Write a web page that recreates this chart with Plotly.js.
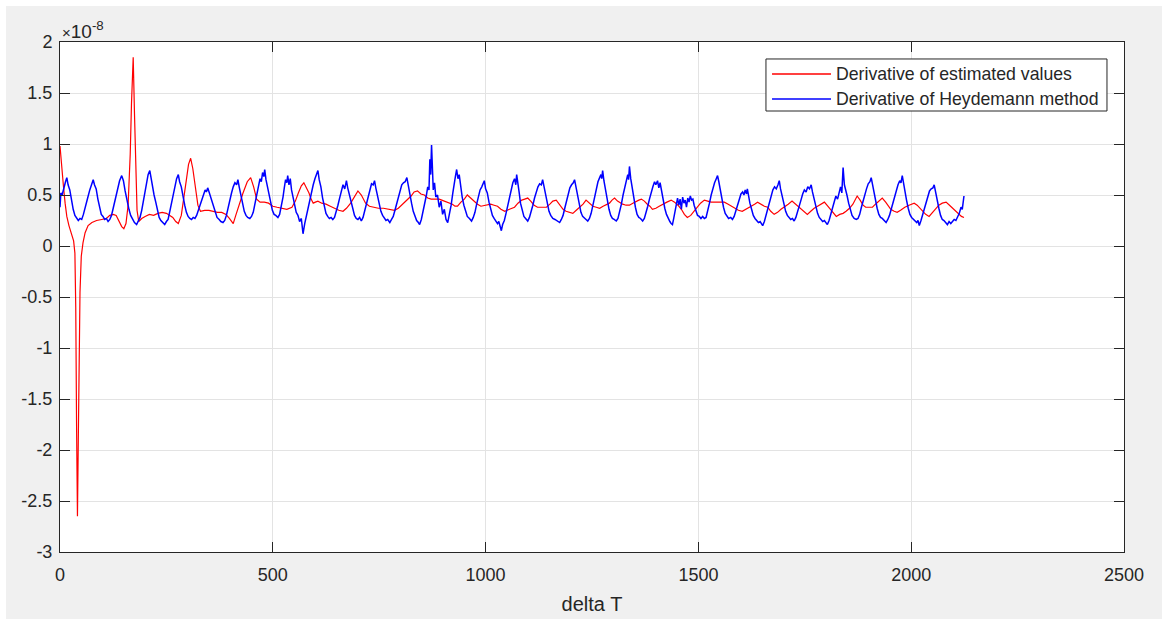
<!DOCTYPE html>
<html>
<head>
<meta charset="utf-8">
<script src="https://cdn.plot.ly/plotly-3.0.1.min.js"></script>
<style>
html,body{margin:0;padding:0;background:#ffffff;width:1162px;height:619px;overflow:hidden;}
#chart{position:absolute;left:6px;top:6px;width:1156px;height:613px;}
</style>
</head>
<body>
<div id="chart"></div>
<script>
// Values are in units of 1e-8
const estX = [0,3,8,12,16,21,27,32,35,37,39,41,43,45,47,50,54,59,66,75,86,98,109,117,125,132,139,145,150,155,160,165,168,172,175,178,181,185,192,200,210,220,230,240,250,258,265,272,278,285,292,297,302,307,312,318,324,330,340,350,360,370,380,390,398,404,407,413,420,430,440,448,455,462,470,480,490,500,510,520,533,545,553,560,567,573,579,585,590,595,600,606,615,625,635,645,655,665,673,683,692,700,708,718,727,735,748,760,773,786,795,805,815,825,832,840,848,856,864,872,882,891,897,903,912,922,928,934,942,950,957,965,973,981,989,1000,1012,1020,1028,1036,1045,1056,1068,1076,1085,1092,1099,1106,1114,1122,1130,1143,1151,1158,1166,1174,1182,1189,1197,1205,1213,1221,1229,1236,1244,1252,1260,1268,1276,1284,1291,1297,1303,1310,1317,1322,1330,1338,1346,1354,1360,1366,1373,1380,1386,1392,1400,1408,1416,1426,1436,1444,1452,1460,1467,1474,1482,1490,1498,1505,1514,1522,1530,1545,1561,1570,1577,1585,1594,1603,1612,1624,1632,1639,1647,1655,1663,1670,1678,1686,1694,1702,1711,1720,1728,1738,1748,1756,1764,1772,1780,1788,1796,1804,1812,1818,1824,1832,1840,1847,1855,1863,1868,1873,1880,1887,1893,1901,1909,1916,1924,1932,1940,1946,1952,1960,1967,1975,1985,1995,2007,2014,2020,2026,2034,2042,2050,2058,2065,2073,2082,2090,2097,2105,2112,2118,2124];
const estY = [0.98,0.80,0.59,0.42,0.29,0.20,0.13,0.05,-0.07,-0.6,-1.8,-2.65,-1.9,-1.0,-0.45,-0.1,0.03,0.13,0.20,0.23,0.25,0.26,0.27,0.30,0.31,0.30,0.24,0.19,0.17,0.22,0.40,0.90,1.40,1.85,1.30,0.70,0.35,0.24,0.27,0.29,0.31,0.30,0.32,0.33,0.32,0.30,0.28,0.24,0.22,0.30,0.48,0.65,0.80,0.86,0.76,0.55,0.40,0.34,0.35,0.35,0.34,0.33,0.33,0.31,0.27,0.23,0.22,0.30,0.40,0.52,0.63,0.67,0.58,0.46,0.43,0.43,0.42,0.39,0.38,0.37,0.36,0.38,0.44,0.52,0.59,0.62,0.57,0.52,0.46,0.42,0.43,0.44,0.42,0.41,0.39,0.37,0.35,0.34,0.37,0.42,0.49,0.54,0.50,0.42,0.39,0.38,0.37,0.37,0.36,0.35,0.37,0.41,0.44,0.49,0.53,0.54,0.51,0.50,0.47,0.46,0.46,0.46,0.45,0.44,0.42,0.41,0.39,0.39,0.43,0.46,0.50,0.47,0.44,0.41,0.39,0.40,0.41,0.40,0.39,0.36,0.34,0.36,0.38,0.42,0.45,0.46,0.47,0.44,0.40,0.38,0.38,0.38,0.41,0.44,0.45,0.41,0.36,0.34,0.33,0.32,0.35,0.38,0.41,0.45,0.42,0.39,0.38,0.37,0.39,0.41,0.42,0.45,0.47,0.44,0.42,0.41,0.40,0.40,0.42,0.44,0.45,0.46,0.44,0.41,0.39,0.36,0.37,0.39,0.41,0.43,0.45,0.43,0.40,0.36,0.31,0.28,0.30,0.34,0.39,0.42,0.45,0.44,0.43,0.43,0.43,0.41,0.39,0.37,0.35,0.34,0.36,0.39,0.41,0.43,0.41,0.39,0.38,0.34,0.31,0.33,0.36,0.38,0.41,0.44,0.41,0.37,0.34,0.31,0.34,0.37,0.39,0.41,0.43,0.39,0.35,0.31,0.29,0.31,0.32,0.34,0.37,0.41,0.45,0.49,0.45,0.40,0.38,0.38,0.38,0.41,0.44,0.47,0.43,0.39,0.36,0.34,0.33,0.35,0.38,0.40,0.42,0.40,0.37,0.34,0.31,0.29,0.33,0.37,0.40,0.42,0.43,0.40,0.37,0.34,0.31,0.29,0.28];

const heyX = [0,2,5,9,13,16,19,23,27,31,35,39,43,47,51,55,60,65,70,74,78,81,85,89,93,97,101,105,109,113,117,121,125,130,135,140,145,149,153,157,162,166,171,175,180,184,188,192,196,200,204,207,211,214,217,221,225,229,233,237,241,246,250,254,258,262,266,270,274,278,281,285,289,293,297,301,305,309,313,317,321,326,331,336,341,344,347,351,355,359,364,369,374,378,383,387,391,395,399,403,407,411,415,418,421,425,429,433,437,441,446,450,454,458,462,466,470,473,476,479,481,484,487,491,495,499,503,507,512,516,520,524,527,530,533,535,538,541,544,547,551,555,559,563,567,571,575,579,583,587,591,595,599,603,606,609,613,617,621,625,629,633,637,641,645,649,653,657,661,665,669,673,676,680,684,688,692,696,700,704,708,712,716,720,724,728,732,736,739,742,746,750,754,758,762,766,770,775,779,783,787,791,795,799,803,807,811,815,818,822,826,830,834,838,842,845,849,853,857,861,864,867,869,871,873,875,877,880,883,887,891,895,899,903,907,911,915,919,923,926,929,932,935,938,941,945,949,953,957,962,967,971,975,979,983,987,991,994,997,1000,1004,1008,1012,1016,1020,1024,1028,1031,1034,1037,1040,1044,1048,1052,1056,1060,1064,1068,1071,1073,1076,1079,1082,1086,1090,1094,1099,1103,1107,1111,1115,1119,1123,1127,1131,1134,1137,1141,1145,1149,1153,1158,1163,1168,1174,1178,1182,1186,1190,1194,1198,1202,1206,1209,1212,1216,1220,1224,1228,1232,1236,1240,1244,1248,1252,1256,1260,1264,1268,1271,1273,1275,1278,1282,1286,1290,1294,1298,1302,1307,1311,1315,1319,1323,1327,1331,1334,1336,1338,1341,1344,1348,1352,1356,1360,1364,1369,1373,1377,1381,1385,1389,1393,1397,1400,1404,1407,1410,1413,1417,1421,1425,1429,1433,1436,1439,1442,1445,1448,1451,1454,1457,1460,1463,1466,1469,1472,1475,1478,1481,1484,1487,1490,1494,1498,1502,1506,1510,1514,1518,1522,1526,1530,1534,1538,1542,1545,1548,1551,1555,1559,1563,1567,1571,1576,1580,1584,1588,1592,1596,1600,1604,1607,1610,1613,1615,1618,1621,1625,1629,1633,1637,1641,1645,1651,1655,1659,1663,1667,1671,1675,1679,1683,1687,1690,1693,1697,1701,1705,1709,1713,1717,1721,1725,1729,1733,1737,1741,1745,1749,1753,1757,1761,1765,1768,1772,1776,1780,1784,1788,1792,1796,1800,1803,1807,1811,1815,1819,1823,1827,1831,1834,1837,1840,1843,1846,1849,1853,1857,1861,1866,1871,1875,1879,1883,1887,1891,1895,1899,1903,1906,1909,1912,1916,1920,1924,1928,1932,1936,1941,1945,1949,1953,1957,1961,1965,1969,1973,1976,1979,1982,1985,1989,1993,1997,2001,2005,2009,2013,2016,2019,2023,2027,2031,2035,2039,2043,2047,2051,2054,2057,2061,2065,2069,2073,2077,2081,2085,2089,2093,2097,2101,2105,2109,2113,2117,2120,2124];
const heyY = [0.38,0.52,0.50,0.58,0.63,0.67,0.60,0.55,0.44,0.36,0.30,0.28,0.25,0.27,0.26,0.31,0.38,0.47,0.55,0.61,0.65,0.60,0.56,0.46,0.38,0.31,0.29,0.26,0.27,0.24,0.26,0.30,0.37,0.46,0.56,0.64,0.69,0.64,0.54,0.45,0.36,0.30,0.26,0.23,0.21,0.25,0.28,0.35,0.45,0.53,0.62,0.70,0.74,0.66,0.61,0.50,0.43,0.35,0.28,0.25,0.23,0.21,0.24,0.26,0.34,0.42,0.51,0.60,0.66,0.70,0.63,0.58,0.48,0.40,0.33,0.29,0.27,0.26,0.28,0.27,0.30,0.36,0.44,0.50,0.55,0.53,0.57,0.52,0.47,0.40,0.34,0.28,0.26,0.24,0.23,0.25,0.30,0.38,0.45,0.52,0.58,0.62,0.60,0.65,0.58,0.50,0.40,0.34,0.30,0.28,0.27,0.29,0.33,0.41,0.50,0.57,0.66,0.63,0.72,0.68,0.75,0.65,0.58,0.50,0.43,0.35,0.31,0.30,0.28,0.31,0.38,0.48,0.57,0.65,0.62,0.69,0.60,0.66,0.55,0.48,0.40,0.33,0.30,0.24,0.27,0.12,0.22,0.30,0.38,0.46,0.54,0.60,0.66,0.70,0.74,0.65,0.58,0.47,0.38,0.32,0.29,0.27,0.28,0.26,0.28,0.33,0.40,0.47,0.55,0.60,0.56,0.64,0.57,0.50,0.41,0.34,0.30,0.27,0.26,0.28,0.245,0.28,0.35,0.42,0.50,0.57,0.61,0.60,0.64,0.57,0.49,0.41,0.34,0.30,0.27,0.25,0.26,0.23,0.26,0.29,0.35,0.42,0.49,0.55,0.60,0.62,0.63,0.67,0.59,0.50,0.42,0.34,0.29,0.25,0.23,0.21,0.26,0.33,0.42,0.50,0.58,0.55,0.85,0.70,0.99,0.72,0.55,0.62,0.48,0.50,0.38,0.44,0.31,0.36,0.26,0.23,0.30,0.40,0.52,0.62,0.68,0.75,0.66,0.70,0.58,0.48,0.40,0.33,0.29,0.27,0.245,0.28,0.33,0.41,0.48,0.55,0.58,0.62,0.64,0.56,0.52,0.43,0.36,0.30,0.27,0.25,0.22,0.24,0.18,0.15,0.21,0.25,0.32,0.40,0.48,0.55,0.62,0.66,0.60,0.70,0.63,0.52,0.42,0.35,0.29,0.27,0.245,0.28,0.33,0.40,0.47,0.53,0.58,0.61,0.60,0.65,0.58,0.49,0.40,0.34,0.30,0.27,0.26,0.25,0.23,0.26,0.30,0.37,0.44,0.51,0.57,0.60,0.62,0.65,0.58,0.49,0.40,0.33,0.29,0.27,0.26,0.245,0.27,0.32,0.40,0.48,0.56,0.63,0.67,0.70,0.66,0.74,0.64,0.55,0.44,0.36,0.30,0.27,0.26,0.245,0.27,0.33,0.41,0.50,0.58,0.65,0.70,0.65,0.78,0.66,0.58,0.46,0.38,0.31,0.28,0.27,0.245,0.27,0.32,0.39,0.46,0.53,0.58,0.63,0.60,0.64,0.57,0.62,0.54,0.45,0.37,0.31,0.27,0.24,0.22,0.21,0.27,0.35,0.42,0.47,0.40,0.46,0.36,0.48,0.42,0.45,0.38,0.47,0.43,0.49,0.45,0.46,0.40,0.35,0.30,0.29,0.27,0.29,0.27,0.28,0.34,0.42,0.50,0.57,0.62,0.66,0.69,0.63,0.55,0.46,0.38,0.32,0.29,0.27,0.28,0.26,0.29,0.34,0.40,0.46,0.51,0.53,0.50,0.55,0.51,0.56,0.48,0.42,0.36,0.30,0.27,0.25,0.23,0.24,0.20,0.24,0.30,0.37,0.44,0.50,0.55,0.58,0.56,0.60,0.64,0.56,0.48,0.40,0.34,0.30,0.28,0.26,0.27,0.245,0.28,0.33,0.39,0.45,0.51,0.55,0.53,0.58,0.56,0.60,0.53,0.46,0.38,0.32,0.28,0.26,0.24,0.25,0.22,0.21,0.25,0.31,0.38,0.44,0.49,0.46,0.53,0.58,0.52,0.77,0.60,0.56,0.50,0.42,0.36,0.30,0.27,0.26,0.27,0.31,0.38,0.45,0.51,0.56,0.61,0.63,0.67,0.60,0.53,0.44,0.37,0.31,0.28,0.27,0.25,0.23,0.26,0.30,0.36,0.42,0.49,0.55,0.60,0.64,0.62,0.69,0.61,0.55,0.45,0.37,0.31,0.28,0.26,0.24,0.23,0.25,0.20,0.25,0.31,0.38,0.44,0.50,0.54,0.56,0.57,0.60,0.53,0.45,0.37,0.30,0.26,0.25,0.23,0.21,0.24,0.22,0.24,0.26,0.25,0.28,0.32,0.38,0.36,0.49];

const seriesNames = ['Derivative of estimated values', 'Derivative of Heydemann method'];
const seriesColors = ['#ff0000', '#0000ff'];
const xTickVals = [0, 500, 1000, 1500, 2000, 2500];
const xTickText = ['0', '500', '1000', '1500', '2000', '2500'];
const yTickVals = [-3, -2.5, -2, -1.5, -1, -0.5, 0, 0.5, 1, 1.5, 2];
const yTickText = ['-3', '-2.5', '-2', '-1.5', '-1', '-0.5', '0', '0.5', '1', '1.5', '2'];
const xTitle = 'delta T';
const exponentLabel = '<span style="font-size:15px">\u00d7</span>10<sup>-8</sup>';

const FONT = 'Liberation Sans, Arial, Helvetica, sans-serif';
const AX = '#262626';

const traces = [
  {x: estX, y: estY, type: 'scatter', mode: 'lines', name: seriesNames[0],
   line: {color: seriesColors[0], width: 1.2}},
  {x: heyX, y: heyY, type: 'scatter', mode: 'lines', name: seriesNames[1],
   line: {color: seriesColors[1], width: 1.5}}
];

const axisCommon = {
  showline: true, linecolor: AX, linewidth: 1, mirror: 'ticks',
  ticks: 'inside', ticklen: 10, tickwidth: 1, tickcolor: AX,
  showgrid: true, gridcolor: '#e3e3e3', gridwidth: 1,
  zeroline: false, tickfont: {family: FONT, size: 18, color: AX},
  fixedrange: true
};

// Legend box drawn in paper coordinates (MATLAB-style legend)
const LG = {x0: 0.6635, x1: 0.984, y0: 0.8647, y1: 0.9667,
            lx0: 0.6692, lx1: 0.7246, tx: 0.7283, rows: [0.9373, 0.8882]};
const shapes = [
  {type: 'rect', xref: 'paper', yref: 'paper', x0: LG.x0, x1: LG.x1, y0: LG.y0, y1: LG.y1,
   fillcolor: '#ffffff', line: {color: AX, width: 1}, layer: 'above'}
];
const annotations = [{
  text: exponentLabel, xref: 'paper', yref: 'paper', x: 0, y: 1,
  xanchor: 'left', yanchor: 'bottom', showarrow: false, xshift: 0, yshift: -2,
  font: {family: FONT, size: 19, color: AX}
}];
seriesNames.forEach(function (name, i) {
  shapes.push({type: 'line', xref: 'paper', yref: 'paper', x0: LG.lx0, x1: LG.lx1,
    y0: LG.rows[i], y1: LG.rows[i], line: {color: seriesColors[i], width: 1.3}, layer: 'above'});
  annotations.push({text: name, xref: 'paper', yref: 'paper', x: LG.tx, y: LG.rows[i],
    xanchor: 'left', yanchor: 'middle', showarrow: false, borderpad: 0,
    font: {family: FONT, size: 17.7, color: AX}});
});

const layout = {
  width: 1156, height: 613,
  margin: {l: 54, r: 38, t: 36, b: 67},
  paper_bgcolor: '#f0f0f0', plot_bgcolor: '#ffffff',
  font: {family: FONT, color: AX},
  showlegend: false,
  xaxis: Object.assign({}, axisCommon, {
    range: [0, 2500], tickmode: 'array', tickvals: xTickVals, ticktext: xTickText,
    ticklabelstandoff: 6,
    title: {text: xTitle, font: {family: FONT, size: 20, color: AX}, standoff: 13}
  }),
  yaxis: Object.assign({}, axisCommon, {
    range: [-3, 2], tickmode: 'array', tickvals: yTickVals, ticktext: yTickText,
    ticklabelstandoff: 3
  }),
  shapes: shapes,
  annotations: annotations
};

Plotly.newPlot('chart', traces, layout, {displayModeBar: false, staticPlot: true});
</script>
</body>
</html>
